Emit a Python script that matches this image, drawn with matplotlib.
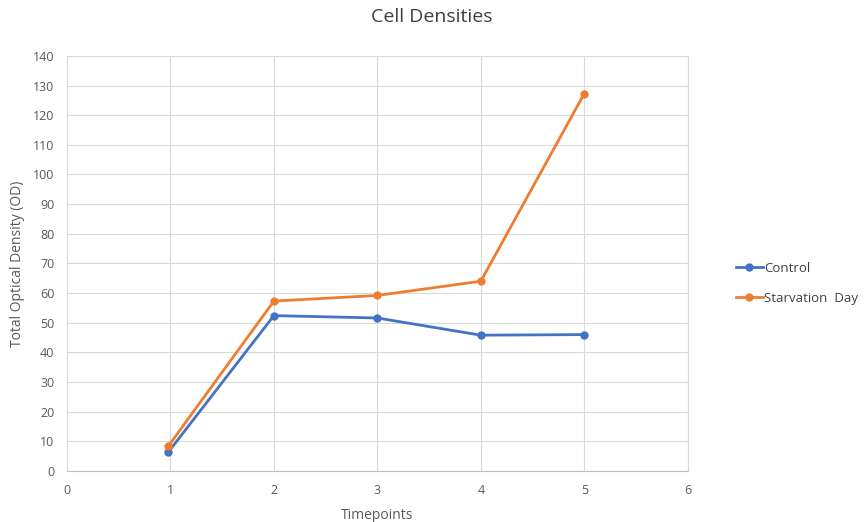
import matplotlib.pyplot as plt

timepoints = [0.98, 2, 3, 4, 5]
control = [6.4, 52.4, 51.6, 45.8, 46.0]
starvation = [8.4, 57.3, 59.2, 64.0, 127.3]

plt.rcParams['font.family'] = ['Open Sans', 'DejaVu Sans']

fig = plt.figure(figsize=(8.64, 5.22), dpi=100)
ax = fig.add_axes([0.0775, 0.0977, 0.7185, 0.7953])

ax.plot(timepoints, control, color='#4472C4', lw=2, marker='o', ms=5, label='Control')
ax.plot(timepoints, starvation, color='#ED7D31', lw=2, marker='o', ms=5, label='Starvation  Day')

ax.set_xlim(0, 6)
ax.set_ylim(0, 140)
ax.set_xticks(range(0, 7))
ax.set_yticks(range(0, 141, 10))
ax.grid(True, color='#d9d9d9', lw=0.8)
ax.set_axisbelow(True)
for s in ax.spines.values():
    s.set_color('#d9d9d9')
    s.set_linewidth(0.8)
ax.spines['bottom'].set_color('#bfbfbf')
ax.tick_params(length=0, colors='#595959', labelsize=9, pad=9)

ax.set_xlabel('Timepoints', color='#595959', fontsize=10, labelpad=8)
ax.set_ylabel('Total Optical Density (OD)', color='#595959', fontsize=10, labelpad=6)
fig.suptitle('Cell Densities', x=0.5, y=0.985, fontsize=14, color='#404040')

fig.legend(loc='center left', bbox_to_anchor=(0.852, 0.457), frameon=False,
           fontsize=9.5, labelcolor='#404040', handlelength=2.0, handletextpad=0.1,
           labelspacing=1.3, borderaxespad=0, borderpad=0)

fig.savefig('out.png', dpi=100)
